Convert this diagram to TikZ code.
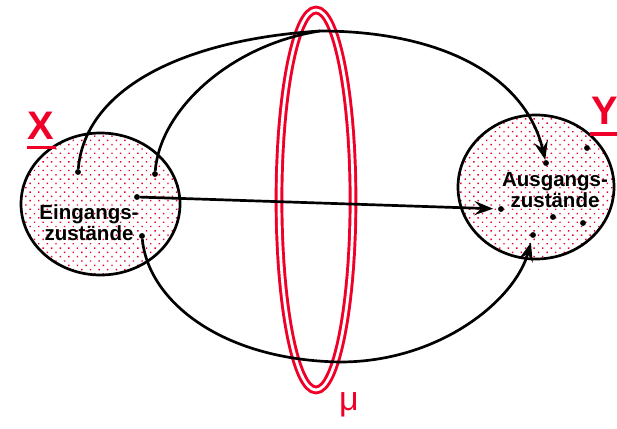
\documentclass[tikz,border=0pt]{standalone}
\usepackage{fontspec}
\setmainfont{Liberation Sans}
\usepackage{xcolor}
\definecolor{signalred}{RGB}{240, 0, 40}
\usepackage{tikz}
\usetikzlibrary{arrows.meta, patterns.meta}

\begin{document}
\begin{tikzpicture}[x=0.03cm, y=-0.03cm, >={Stealth[length=16pt, width=12pt, inset=6pt]},
    menge/.style={line width=2.3pt, pattern={Dots[radius=0.85pt, distance=5.2pt, angle=45]}, pattern color=signalred},
    bahn/.style={line width=2.3pt, black},
    zustand/.style={circle, fill=black, inner sep=0pt, minimum size=5pt},
    beschrift/.style={font=\fontsize{17.5}{18}\selectfont\bfseries, align=center},
    gross/.style={signalred, font=\fontsize{34}{34}\selectfont\bfseries, inner sep=0pt}]
    \useasboundingbox (0,0) rectangle (617,429);
    \draw[signalred, line width=2.5pt, double=white, double distance=2.4pt] (316,200) ellipse [x radius=37, y radius=190];
    \draw[menge] (100.5,204) ellipse [x radius=79.5, y radius=71];
    \draw[menge] (536,187) ellipse [x radius=78, y radius=72];
    \node[beschrift] (eintext) at (89,223) {Eingangs-\\zustände};
    \node[beschrift] (austext) at (555,190) {Ausgangs-\\zustände};
    \node[zustand] (e1) at (78,172) {};
    \node[zustand] (e2) at (155,174) {};
    \node[zustand] (e3) at (137,197) {};
    \node[zustand] (e4) at (142,236) {};
    \node[zustand] (a1) at (546,163) {};
    \node[zustand] (a2) at (587,148) {};
    \node[zustand] (a3) at (501,209) {};
    \node[zustand] (a4) at (553,217) {};
    \node[zustand] (a5) at (583,223) {};
    \node[zustand] (a6) at (533,235) {};
    \coordinate (gipfel) at (320,31);
    \coordinate (tal) at (340,362);
    \draw[bahn, ->] (e1) .. controls (85,90) and (180,40) .. (gipfel) .. controls (440,31) and (525,75) .. (a1);
    \draw[bahn] (e2) .. controls (160,110) and (230,45) .. (gipfel);
    \draw[bahn, ->, shorten >=4pt] (e3) -- (a3);
    \draw[bahn, ->, shorten >=4pt] (e4) .. controls (148,300) and (220,360) .. (tal) .. controls (440,362) and (515,300) .. (a6);
    \node[gross] (xlabel) at (40.5,125.5) {X};
    \draw[signalred, line width=3.4pt] (27,147.5) -- (56,147.5);
    \node[gross] (ylabel) at (605,111) {Y};
    \draw[signalred, line width=3.4pt] (590,134) -- (617,134);
    \node[signalred, font=\fontsize{29}{29}\selectfont, inner sep=0pt] (mu) at (349,405) {μ};
\end{tikzpicture}
\end{document}
